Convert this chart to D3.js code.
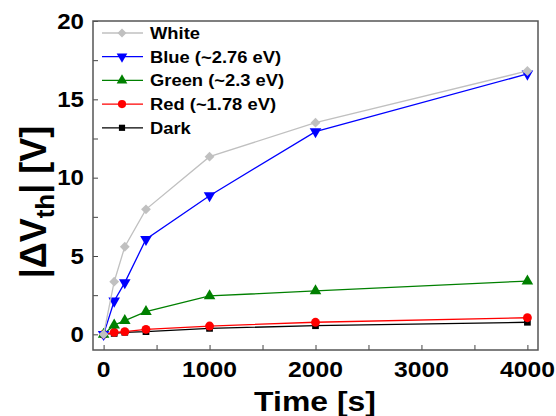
<!DOCTYPE html>
<html>
<head>
<meta charset="utf-8">
<script src="https://cdn.jsdelivr.net/npm/d3@7"></script>
<style>
  body { margin: 0; background: #fff; }
  text { font-family: "Liberation Sans", Arial, sans-serif; font-weight: bold; }
</style>
</head>
<body>
<div id="myVis"></div>
<script>
var width = 556;
var height = 416;

// data
var times = [0, 100, 200, 400, 1000, 2000, 4000];
var whiteVals = [0, 3.36, 5.59, 7.98, 11.34, 13.51, 16.81];
var blueVals = [0, 2.13, 3.3, 6.07, 8.85, 12.94, 16.62];
var greenVals = [0, 0.59, 0.87, 1.45, 2.45, 2.77, 3.4];
var redVals = [0, 0.13, 0.17, 0.32, 0.53, 0.77, 1.06];
var darkVals = [0, 0.06, 0.13, 0.17, 0.38, 0.55, 0.77];
var xTicks = [0, 1000, 2000, 3000, 4000];
var yTicks = [0, 5, 10, 15, 20];

var series = [
  { name: "White", values: whiteVals, color: "#c0c0c0", symbol: d3.symbolSquare, size: 48, rot: 45 },
  { name: "Blue (~2.76 eV)", values: blueVals, color: "#0000ff", symbol: d3.symbolTriangle, size: 58, rot: 180 },
  { name: "Green (~2.3 eV)", values: greenVals, color: "#008000", symbol: d3.symbolTriangle, size: 58, rot: 0 },
  { name: "Red (~1.78 eV)", values: redVals, color: "#ff0000", symbol: d3.symbolCircle, size: 62, rot: 0 },
  { name: "Dark", values: darkVals, color: "#000000", symbol: d3.symbolSquare, size: 45, rot: 0 }
];

var plotL = 93, plotR = 538, plotT = 21, plotB = 350;

var svg = d3.select("#myVis")
  .append("svg")
  .attr("width", width)
  .attr("height", height);

var x = d3.scaleLinear().domain([-100, 4100]).range([plotL, plotR]);
var y = d3.scaleLinear().domain([-1, 20]).range([plotB, plotT]);

// inward ticks
svg.append("g")
  .attr("transform", "translate(0," + plotB + ")")
  .call(d3.axisBottom(x).tickValues(d3.range(0, 4001, 500)).tickSize(-5).tickFormat(""))
  .call(function(g) { g.select(".domain").remove(); g.selectAll("line").attr("stroke", "#444"); });

svg.append("g")
  .attr("transform", "translate(" + plotL + ",0)")
  .call(d3.axisLeft(y).tickValues(d3.range(0, 20.1, 2.5)).tickSize(-5).tickFormat(""))
  .call(function(g) { g.select(".domain").remove(); g.selectAll("line").attr("stroke", "#444"); });

// frame
svg.append("rect")
  .attr("x", plotL).attr("y", plotT)
  .attr("width", plotR - plotL).attr("height", plotB - plotT)
  .attr("fill", "none").attr("stroke", "#555").attr("stroke-width", 1.5);

// tick labels (glyphs in the reference are a bit wider, so stretch them)
svg.selectAll(".xlab").data(xTicks).enter().append("text")
  .attr("transform", function(d) { return "translate(" + x(d) + ",377) scale(1.15,1)"; })
  .attr("text-anchor", "middle")
  .attr("font-size", 21.5)
  .text(function(d) { return d; });

svg.selectAll(".ylab").data(yTicks).enter().append("text")
  .attr("transform", function(d) { return "translate(84," + (y(d) + 7.5) + ") scale(1.12,1)"; })
  .attr("text-anchor", "end")
  .attr("font-size", 21.5)
  .text(function(d) { return d; });

// axis titles
svg.append("text")
  .attr("transform", "translate(315,411) scale(1.12,1)")
  .attr("text-anchor", "middle")
  .attr("font-size", 28.5)
  .text("Time [s]");

var yt = svg.append("text")
  .attr("transform", "translate(46,202) rotate(-90)")
  .attr("text-anchor", "middle")
  .attr("font-size", 36);
yt.append("tspan").text("|\u0394V");
yt.append("tspan").attr("font-size", 26).attr("dy", 8).text("th");
yt.append("tspan").attr("dy", -8).text("| [V]");

// lines and markers, Dark first so White sits on top
var line = d3.line()
  .x(function(d, i) { return x(times[i]); })
  .y(function(d) { return y(d); });

series.slice().reverse().forEach(function(s) {
  svg.append("path")
    .attr("d", line(s.values))
    .attr("fill", "none")
    .attr("stroke", s.color)
    .attr("stroke-width", 1.3);

  svg.selectAll(null).data(s.values).enter().append("path")
    .attr("d", d3.symbol().type(s.symbol).size(s.size))
    .attr("fill", s.color)
    .attr("transform", function(d, i) {
      return "translate(" + x(times[i]) + "," + y(d) + ") rotate(" + s.rot + ")";
    });
});

// legend
series.forEach(function(s, i) {
  var ly = 33 + i * 23.7;
  svg.append("line")
    .attr("x1", 102).attr("x2", 143)
    .attr("y1", ly).attr("y2", ly)
    .attr("stroke", s.color).attr("stroke-width", 1.3);
  svg.append("path")
    .attr("d", d3.symbol().type(s.symbol).size(s.size * 0.85))
    .attr("fill", s.color)
    .attr("transform", "translate(122," + ly + ") rotate(" + s.rot + ")");
  svg.append("text")
    .attr("transform", "translate(150," + (ly + 6) + ") scale(1.08,1)")
    .attr("font-size", 17)
    .text(s.name);
});
</script>
</body>
</html>
